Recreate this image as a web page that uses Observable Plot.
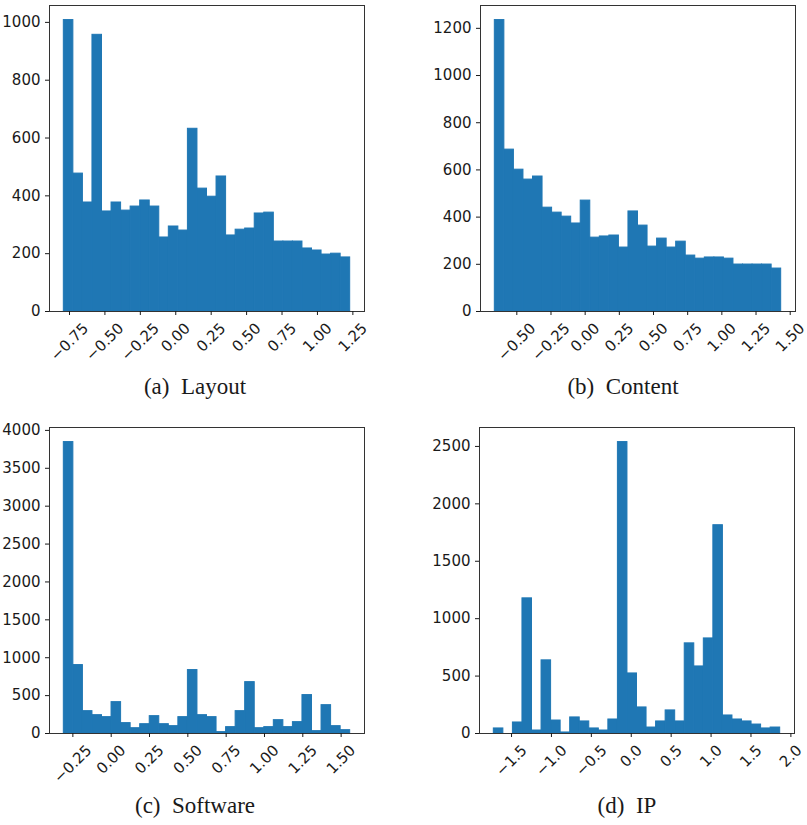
<!DOCTYPE html>
<html><head><meta charset="utf-8">
<script src="https://cdn.jsdelivr.net/npm/d3@7"></script>
<script src="https://cdn.jsdelivr.net/npm/@observablehq/plot@0.6"></script>
<style>
body{margin:0;background:#fff;}
#fig{position:relative;width:807px;height:825px;background:#fff;overflow:hidden;}
.panel{position:absolute;}
.cap{position:absolute;font-family:"Liberation Serif","Times New Roman",serif;font-size:23px;line-height:23px;color:#1a1a1a;white-space:pre;transform:translateX(-50%);}
</style></head><body><div id="fig"></div>
<script>
// ---- data ----
const layoutCounts = [1008,477,377,957,346,377,349,363,384,363,256,294,280,632,425,397,467,263,283,287,339,342,242,242,242,218,211,197,200,187];
const layoutRange = [-0.790, 1.231];
const layoutXTicks = [-0.75,-0.5,-0.25,0,0.25,0.5,0.75,1,1.25];
const layoutYTicks = [0,200,400,600,800,1000];

const contentCounts = [1235,686,601,559,572,440,419,402,373,470,313,318,322,271,424,364,275,309,271,296,237,224,229,229,224,199,199,199,199,182];
const contentRange = [-0.661, 1.434];
const contentXTicks = [-0.5,-0.25,0,0.25,0.5,0.75,1,1.25,1.5];
const contentYTicks = [0,200,400,600,800,1000,1200];

const softwareCounts = [3846,903,295,242,216,414,137,70,123,229,123,97,216,837,242,216,18,84,295,678,70,84,176,84,150,507,31,374,97,44];
const softwareRange = [-0.309, 1.559];
const softwareXTicks = [-0.25,0,0.25,0.5,0.75,1,1.25,1.5];
const softwareYTicks = [0,500,1000,1500,2000,2500,3000,3500,4000];

const ipCounts = [44,0,96,1177,26,637,113,9,140,105,44,26,122,2538,523,227,52,105,201,105,785,584,828,1814,157,122,105,78,44,52];
const ipRange = [-1.722, 1.866];
const ipXTicks = [-1.5,-1,-0.5,0,0.5,1,1.5,2];
const ipYTicks = [0,500,1000,1500,2000,2500];

const captions = ["(a)  Layout","(b)  Content","(c)  Software","(d)  IP"];

// ---- drawing ----
const FONT = 15;
const ctx = document.createElement("canvas").getContext("2d");
ctx.font = FONT + "px 'DejaVu Sans'";
const measure = s => ctx.measureText(s).width;

function panel(o) {
  const n = o.counts.length;
  const step = (o.range[1] - o.range[0]) / n;
  const bins = o.counts.map((c, i) => ({x1: o.range[0] + i * step, x2: o.range[0] + (i + 1) * step, y: c}));
  const pad = 0.05 * (o.range[1] - o.range[0]);
  const fmt = d3.format(o.fmt);
  const h = FONT;
  const labelMarks = o.xTicks.map(t => {
    const L = measure(fmt(t));
    return Plot.text([t], {x: d => d, text: d => fmt(d), frameAnchor: "bottom", rotate: -45,
      textAnchor: "end", lineAnchor: "middle", dx: 0.354 * L, dy: 9 + 0.354 * h, fontSize: FONT, fill: "#1a1a1a"});
  });
  const chart = Plot.plot({
    width: o.width, height: o.height,
    marginLeft: o.mL, marginRight: o.mR, marginTop: o.mT, marginBottom: o.mB,
    style: {fontFamily: "'DejaVu Sans', sans-serif", fontSize: FONT + "px", color: "#1a1a1a", background: "white", overflow: "visible"},
    x: {domain: [o.range[0] - pad, o.range[1] + pad]},
    y: {domain: [0, d3.max(o.counts) * 1.05]},
    marks: [
      Plot.rectY(bins, {x1: "x1", x2: "x2", y: "y", fill: "#1f77b4", stroke: "#1f77b4", strokeWidth: 1, inset: 0}),
      Plot.frame({stroke: "#333", strokeWidth: 1}),
      Plot.axisY({ticks: o.yTicks, tickSize: 4, tickPadding: 5, fontSize: FONT, label: null, tickFormat: d3.format("d")}),
      Plot.axisX({ticks: o.xTicks, tickSize: 4, tickFormat: () => "", label: null}),
      ...labelMarks
    ]
  });
  const div = document.createElement("div");
  div.className = "panel";
  div.style.left = o.left + "px";
  div.style.top = o.top + "px";
  div.appendChild(chart);
  document.getElementById("fig").appendChild(div);
  const cap = document.createElement("div");
  cap.className = "cap";
  cap.textContent = o.caption;
  cap.style.left = o.capX + "px";
  cap.style.top = (o.capBase - 19) + "px";
  document.getElementById("fig").appendChild(cap);
}

panel({counts: layoutCounts, range: layoutRange, xTicks: layoutXTicks, yTicks: layoutYTicks, fmt: ".2f",
  left: 0, top: 0, width: 400, height: 366, mL: 49, mR: 36, mT: 5, mB: 55, caption: captions[0], capX: 195, capBase: 394});
panel({counts: contentCounts, range: contentRange, xTicks: contentXTicks, yTicks: contentYTicks, fmt: ".2f",
  left: 400, top: 0, width: 407, height: 366, mL: 80, mR: 12, mT: 5, mB: 55, caption: captions[1], capX: 623, capBase: 394});
panel({counts: softwareCounts, range: softwareRange, xTicks: softwareXTicks, yTicks: softwareYTicks, fmt: ".2f",
  left: 0, top: 410, width: 400, height: 378, mL: 49, mR: 36, mT: 17, mB: 55, caption: captions[2], capX: 195, capBase: 813});
panel({counts: ipCounts, range: ipRange, xTicks: ipXTicks, yTicks: ipYTicks, fmt: ".1f",
  left: 400, top: 410, width: 407, height: 378, mL: 79, mR: 13, mT: 17, mB: 55, caption: captions[3], capX: 627, capBase: 813});
</script>
</body></html>
